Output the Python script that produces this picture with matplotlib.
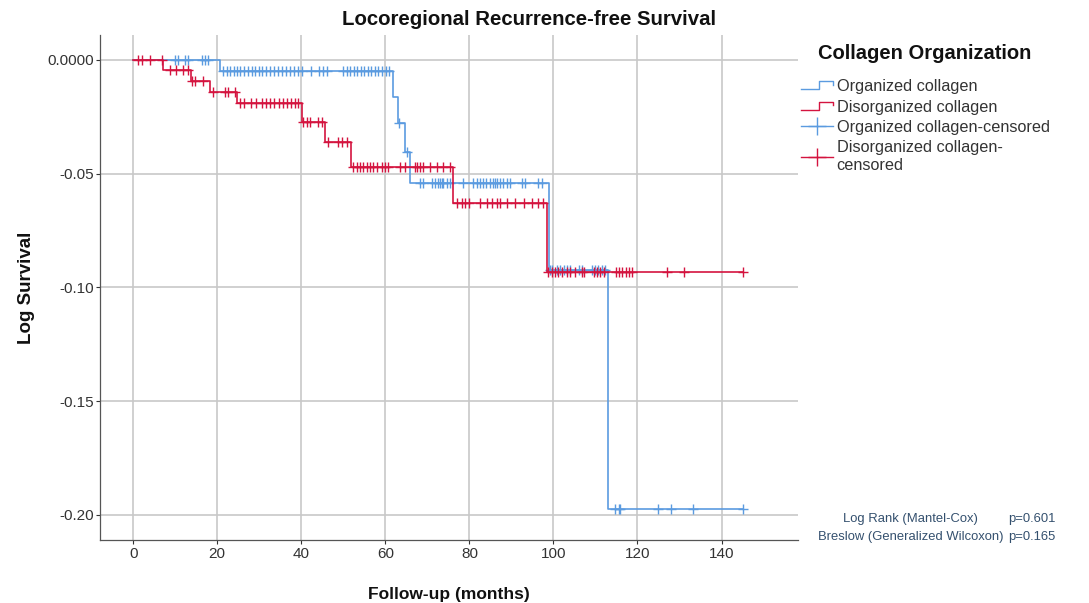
import numpy as np
import matplotlib
matplotlib.use('Agg')
import matplotlib.pyplot as plt
from matplotlib.lines import Line2D
from matplotlib.legend_handler import HandlerBase

plt.rcParams['font.family'] = ['Liberation Sans', 'DejaVu Sans']

# step curves (log survival) - event times and levels
org_times = [0, 20.6, 61.8, 62.9, 64.7, 65.9, 98.9, 112.9, 145.1]
org_levels = [0, -0.0047, -0.0164, -0.0278, -0.0403, -0.0542, -0.0923, -0.1974, -0.1974]
dis_times = [0, 7.1, 13.7, 18.3, 24.6, 40.1, 45.6, 51.8, 76.0, 98.4, 145.2]
dis_levels = [0, -0.0044, -0.0091, -0.0142, -0.019, -0.0271, -0.0359, -0.0469, -0.063, -0.0932, -0.0932]

# censored times
org_censored = [9.9, 10.7, 12.3, 13.1, 16.3, 17.1, 17.9,
                21.4, 22.3, 23.0, 23.9, 24.7, 25.4, 26.3, 27.3, 28.3, 29.0, 29.9, 30.6,
                31.6, 32.5, 33.5, 34.4, 35.4, 36.3, 37.3, 38.3, 39.2, 40.2, 42.3, 44.2,
                45.2, 46.1, 49.9, 50.9, 51.6, 52.5, 53.3, 54.2, 54.9, 55.9, 56.6, 57.5,
                58.3, 59.2, 60.2, 60.9,
                63.2, 65.2,
                68.3, 69.0, 71.0, 71.8, 72.6, 73.0, 73.4, 73.8, 74.6, 75.4, 78.5, 80.9,
                81.7, 82.5, 83.3, 84.0, 84.8, 85.6, 86.1, 86.5, 87.3, 88.1, 88.9, 89.7,
                92.5, 93.3, 96.4, 97.2,
                99.2, 99.6, 100.8, 101.6, 102.4, 103.2, 104.0, 106.0, 106.8, 109.1, 109.9,
                110.7, 111.5, 112.3,
                114.7, 115.5, 115.9, 125.0, 128.0, 133.1, 145.1]
dis_censored = [1.2, 2.0, 4.0, 6.8,
                8.7, 10.3, 11.9, 13.1,
                13.9, 14.7, 16.7,
                19.0, 21.8, 22.6, 24.2,
                25.4, 26.4, 28.0, 29.2, 30.6, 31.6, 32.5, 33.5, 34.7, 35.6, 36.6, 37.5,
                38.5, 39.2,
                40.5, 41.3, 42.1, 44.0, 44.9,
                46.4, 48.8, 49.6, 50.8,
                52.4, 53.2, 54.0, 54.8, 55.6, 56.3, 57.1, 58.0, 59.1, 59.9, 60.7, 63.5,
                64.7, 67.1, 67.5, 68.3, 69.0, 70.6, 72.2, 73.8, 75.4,
                77.0, 78.2, 79.0, 79.8, 82.5, 84.1, 85.3, 86.5, 87.3, 88.9, 90.9, 92.9,
                94.9, 96.4, 97.6,
                98.8, 99.6, 100.4, 101.2, 102.0, 103.2, 104.0, 105.2, 106.8, 107.2, 109.6,
                110.4, 111.2, 112.0, 114.8, 115.6, 116.4, 117.2, 118.0, 118.8, 127.0,
                131.0, 145.2]

xticks = [0, 20, 40, 60, 80, 100, 120, 140]
yticks = [0, -0.05, -0.10, -0.15, -0.20]
ytick_labels = ['0.0000', '-0.05', '-0.10', '-0.15', '-0.20']

tests = ['Log Rank (Mantel-Cox)', 'Breslow (Generalized Wilcoxon)']
pvals = ['p=0.601', 'p=0.165']

blue = '#5b9be0'
red = '#d4143f'
txt = '#333333'


def level_at(times, levels, t):
    idx = np.searchsorted(times, t, side='right') - 1
    return np.array(levels)[idx]


class StepHandler(HandlerBase):
    def create_artists(self, legend, orig_handle, xdescent, ydescent,
                       width, height, fontsize, trans):
        h = height
        x = [-xdescent, width * 0.55, width * 0.55, width, width]
        y = [0.15 * h, 0.15 * h, 0.85 * h, 0.85 * h, 0.55 * h]
        ln = Line2D(x, y, color=orig_handle.get_color(), lw=1.0, transform=trans)
        return [ln]


fig = plt.figure(figsize=(10.89, 6.03), dpi=100)
ax = fig.add_axes([0.0918, 0.1045, 0.641, 0.8375])

ax.step(org_times, org_levels, where='post', color=blue, lw=1.2, zorder=3)
ax.step(dis_times, dis_levels, where='post', color=red, lw=1.2, zorder=4)
ax.plot(org_censored, level_at(org_times, org_levels, org_censored), '+',
        color=blue, ms=7, mew=1.0, zorder=3)
ax.plot(dis_censored, level_at(dis_times, dis_levels, dis_censored), '+',
        color=red, ms=7, mew=1.0, zorder=4)

ax.set_xlim(-7.9, 158.2)
ax.set_ylim(-0.2111, 0.011)
ax.set_xticks(xticks)
ax.set_yticks(yticks)
ax.set_yticklabels(ytick_labels)
ax.tick_params(labelsize=11, colors=txt, length=3, width=0.8, pad=1)
ax.tick_params(axis='x', pad=2)
ax.grid(True, color='#c8c8c8', lw=1.2)
ax.set_axisbelow(True)
for s in ['top', 'right']:
    ax.spines[s].set_visible(False)
for s in ['left', 'bottom']:
    ax.spines[s].set_color('#555555')
    ax.spines[s].set_linewidth(0.9)

fig.text(0.486, 0.967, 'Locoregional Recurrence-free Survival', ha='center', va='center',
         fontsize=14.7, fontweight='bold', color='#111111')
ax.set_xlabel('Follow-up (months)', fontsize=12.5, fontweight='bold', color='#111111', labelpad=19)
ax.set_ylabel('Log Survival', fontsize=13.5, fontweight='bold', color='#111111', labelpad=9)

fig.text(0.751, 0.912, 'Collagen Organization', ha='left', va='center',
         fontsize=14.5, fontweight='bold', color='#111111')

handles = [Line2D([], [], color=blue), Line2D([], [], color=red),
           Line2D([], [], color=blue, marker='+', ms=13, mew=1.0, lw=1.0),
           Line2D([], [], color=red, marker='+', ms=13, mew=1.0, lw=1.0)]
labels = ['Organized collagen', 'Disorganized collagen',
          'Organized collagen-censored', 'Disorganized collagen-\ncensored']
leg = fig.legend(handles, labels, loc='upper left', bbox_to_anchor=(0.722, 0.893),
                 frameon=False, fontsize=11.7, handlelength=2.0, handletextpad=0.2,
                 labelspacing=0.33,
                 handler_map={handles[0]: StepHandler(), handles[1]: StepHandler()})
for t in leg.get_texts():
    t.set_color(txt)

stat_color = '#34506e'
for i, (name, p) in enumerate(zip(tests, pvals)):
    y = 0.134 - 0.030 * i
    fig.text(0.836, y, name, ha='center', fontsize=9.4, color=stat_color)
    fig.text(0.926, y, p, ha='left', fontsize=9.4, color=stat_color)

fig.savefig('out.png', dpi=100)
